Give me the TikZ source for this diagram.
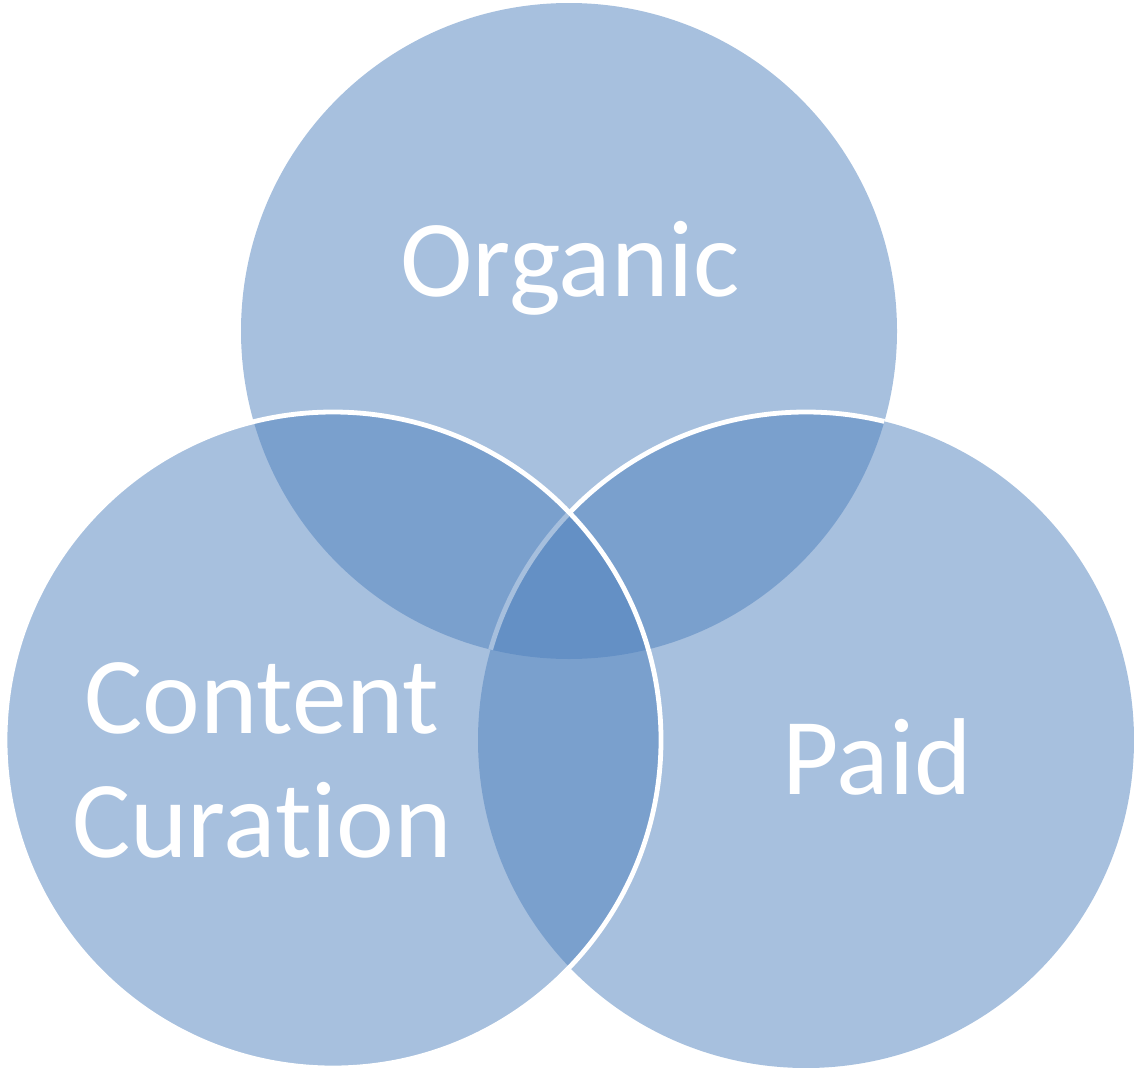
\documentclass[tikz,border=0pt]{standalone}
\usepackage{fontspec}
\setmainfont{Carlito}[Ligatures=NoCommon]
\usepackage{tikz}
\definecolor{vennblue}{RGB}{79,129,189}

\begin{document}
\begin{tikzpicture}[x=0.75pt,y=0.75pt,yscale=-1,xscale=1,
  setfill/.style={fill=vennblue,fill opacity=0.5},
  setedge/.style={draw=white,line width=3.6pt},
  setlabel/.style={text=white,font=\fontsize{82}{93}\selectfont,align=center}]
\useasboundingbox (0,0) rectangle (1134,1067);

% centres of the three sets
\coordinate (organic) at (569,331);
\coordinate (paid) at (806,740);
\coordinate (curation) at (333,740);

%Shape: Circle [organic]
\fill [setfill] (organic) circle [radius=328];
%Shape: Circle [paid]
\fill [setfill] (paid) circle [radius=328];
% white rim of paid, only across organic
\begin{scope}
\clip (organic) circle [radius=328];
\draw [setedge] (paid) circle [radius=328];
\end{scope}
%Shape: Circle [curation]
\fill [setfill] (curation) circle [radius=328];
\draw [setedge] (curation) circle [radius=328];

% Text Node
\node [setlabel, anchor=base] (organicText) at (570,296) {Organic};
% Text Node (base is the last line)
\node [setlabel, anchor=base] (curationText) at (262,857) {Content\\Curation};
% Text Node
\node [setlabel, anchor=base] (paidText) at (877,794) {Paid};

\end{tikzpicture}
\end{document}
